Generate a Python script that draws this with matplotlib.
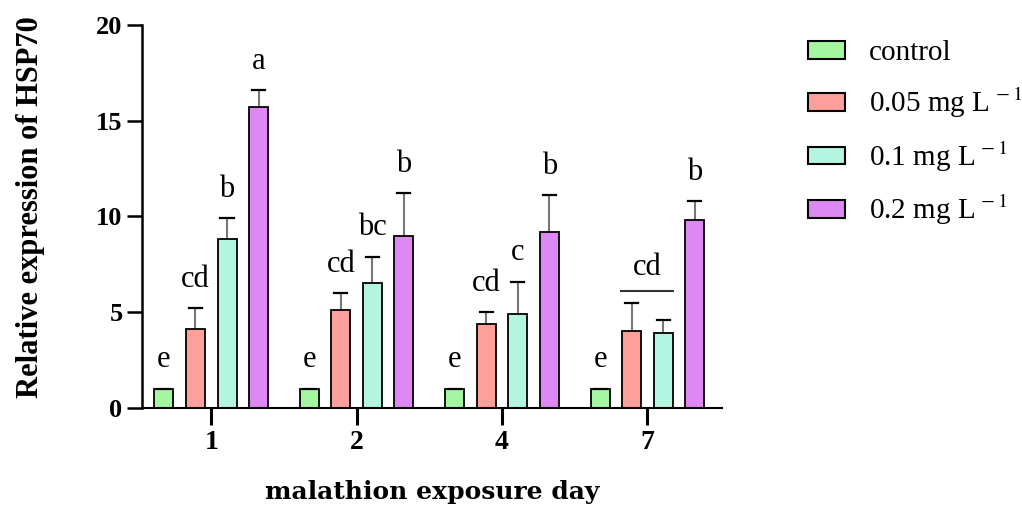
import matplotlib
matplotlib.use('Agg')
from matplotlib import pyplot as plt
from matplotlib.patches import Patch
import numpy as np

plt.rcParams['font.family'] = ['Liberation Serif', 'DejaVu Serif']
plt.rcParams['mathtext.fontset'] = 'stix'

days = ['1', '2', '4', '7']
labels = ['control', '0.05 mg L$^{\\,-1}$', '0.1 mg L$^{\\,-1}$', '0.2 mg L$^{\\,-1}$']
colors = ['#a4f6a0', '#fda09c', '#b3f5e0', '#de88f5']

control = [1.0, 1.0, 1.0, 1.0]
low = [4.1, 5.1, 4.4, 4.0]
mid = [8.8, 6.5, 4.9, 3.9]
high = [15.7, 9.0, 9.2, 9.8]

control_err = [0, 0, 0, 0]
low_err = [1.1, 0.9, 0.6, 1.5]
mid_err = [1.1, 1.4, 1.7, 0.7]
high_err = [0.9, 2.2, 1.9, 1.0]

letters = [['e', 'cd', 'b', 'a'],
           ['e', 'cd', 'bc', 'b'],
           ['e', 'cd', 'c', 'b'],
           ['e', '', '', 'b']]

values = [control, low, mid, high]
errors = [control_err, low_err, mid_err, high_err]

fig = plt.figure(figsize=(10.22, 5.08), dpi=100)
ax = fig.add_axes([0.139, 0.197, 0.567, 0.754])

x = np.arange(len(days))
step = 0.217
width = 0.131
for i in range(4):
    xs = x + (i - 1.5) * step
    ax.bar(xs, values[i], width, color=colors[i], edgecolor='black', linewidth=1.3, zorder=2)
    ax.errorbar(xs, values[i], yerr=[np.zeros(4), errors[i]], fmt='none',
                ecolor='#777777', elinewidth=1.5, capsize=0, zorder=1)
    tops = np.array(values[i]) + np.array(errors[i])
    for xx, t in zip(xs, tops):
        ax.plot([xx - 0.045, xx + 0.045], [t, t], color='black', lw=1.6, zorder=3)
    for j in range(4):
        if letters[j][i]:
            ax.text(xs[j], tops[j] + 0.75, letters[j][i], ha='center', va='bottom', fontsize=22)

# shared letter for day 7 middle groups
x7 = x[3] + np.array([-0.5, 0.5]) * step
ax.plot([x7[0] - 0.07, x7[1] + 0.07], [6.1, 6.1], color='#333333', lw=1.5)
ax.text(x7.mean(), 6.6, 'cd', ha='center', va='bottom', fontsize=22)

ax.set_xlim(-0.476, 3.51)
ax.set_ylim(0, 20)
ax.set_yticks([0, 5, 10, 15, 20])
ax.set_xticks(x)
ax.set_xticklabels(days, fontweight='bold')
for t in ax.get_yticklabels():
    t.set_fontweight('bold')
ax.tick_params(axis='y', labelsize=19, width=1.8, length=11, pad=3)
ax.tick_params(axis='x', labelsize=20, width=2.2, length=12, pad=4)
ax.spines['top'].set_visible(False)
ax.spines['right'].set_visible(False)
ax.spines['left'].set_linewidth(1.8)
ax.spines['bottom'].set_linewidth(1.5)

ax.set_ylabel('Relative expression of HSP70', fontsize=22, fontweight='bold')
ax.yaxis.set_label_coords(-0.168, 0.525)
ax.set_xlabel('malathion exposure day', fontsize=18, fontweight='bold', labelpad=18,
              family='DejaVu Serif')

handles = [Patch(facecolor=c, edgecolor='black', linewidth=1.5) for c in colors]
fig.legend(handles, labels, loc='upper left', bbox_to_anchor=(0.765, 0.972), frameon=False,
           fontsize=21, handlelength=1.25, handleheight=0.55, labelspacing=0.66, handletextpad=0.85)

plt.savefig('out.png', dpi=100)
